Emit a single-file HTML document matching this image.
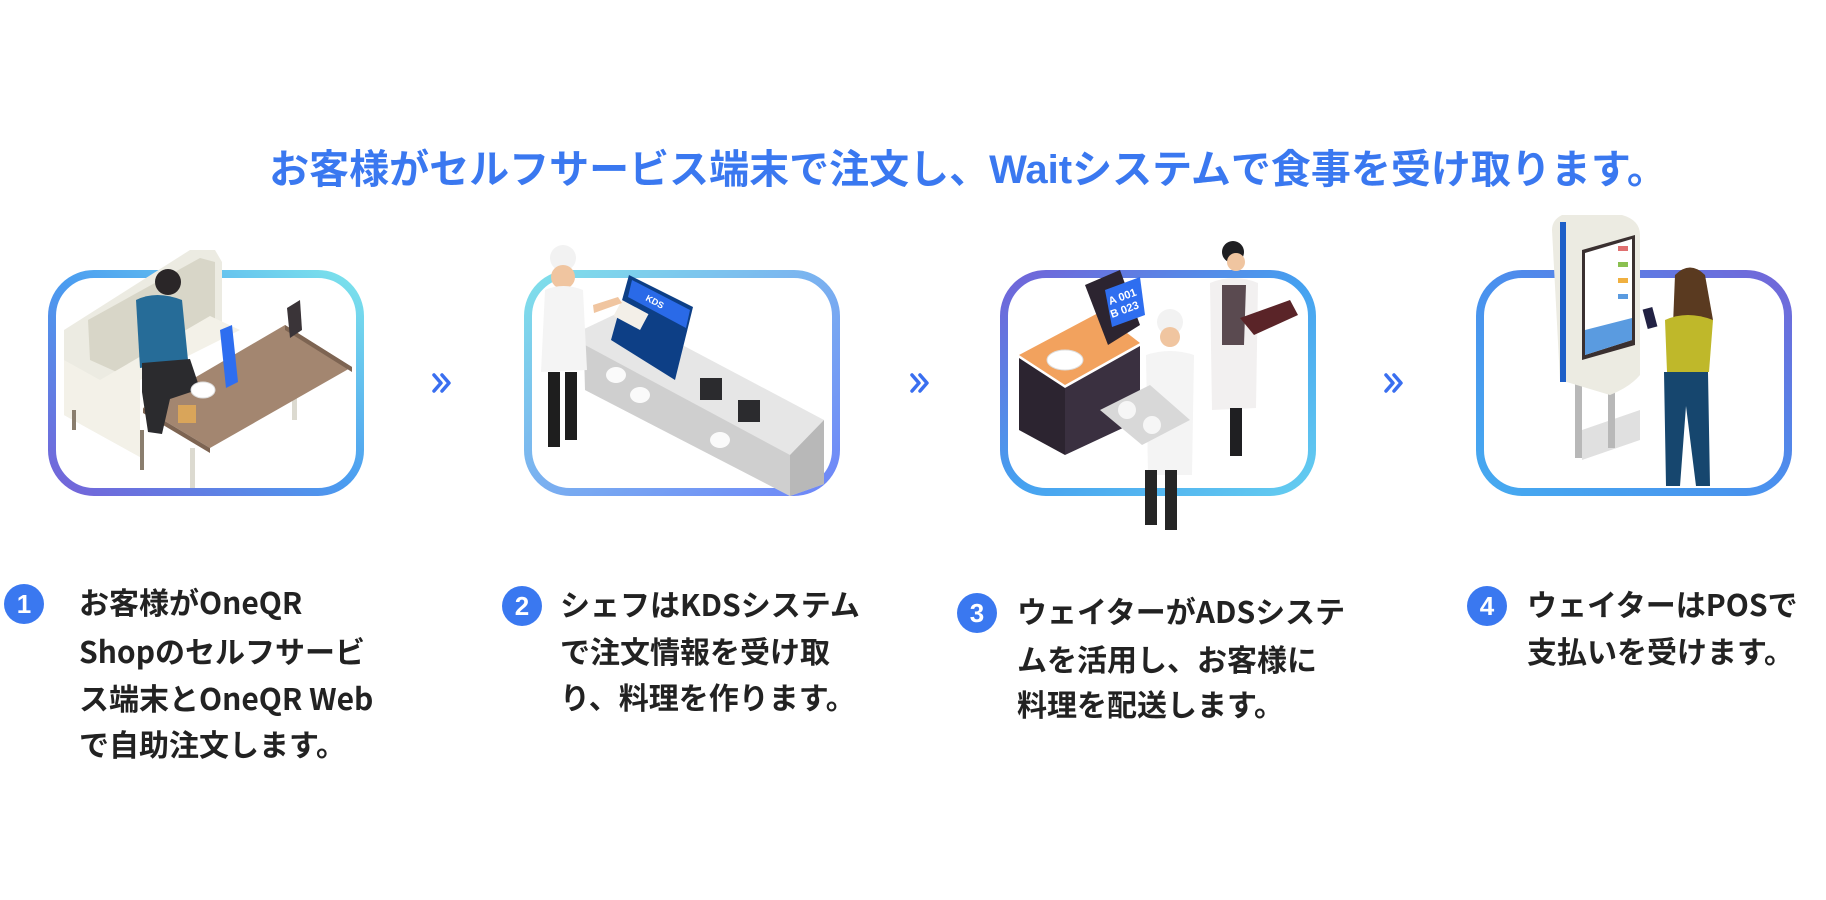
<!DOCTYPE html>
<html><head><meta charset="utf-8"><style>
html,body{margin:0;padding:0;background:#fff;width:1826px;height:900px;overflow:hidden}
svg{display:block}
text{font-family:"Liberation Sans","Noto Sans CJK JP",sans-serif;font-weight:bold}
.st text{font-family:"Noto Sans CJK JP",sans-serif}
</style></head><body>
<svg width="1826" height="900" viewBox="0 0 1826 900">
<defs>
<linearGradient id="g1" x1="0" y1="1" x2="1" y2="0"><stop offset="0" stop-color="#7563d8"/><stop offset=".5" stop-color="#4a9cf0"/><stop offset="1" stop-color="#7de4ec"/></linearGradient>
<linearGradient id="g2" x1="0" y1="0" x2="1" y2="1"><stop offset="0" stop-color="#7fe0ea"/><stop offset=".5" stop-color="#7ab0f0"/><stop offset="1" stop-color="#6e86f8"/></linearGradient>
<linearGradient id="g3" x1="0" y1="0" x2="1" y2="1"><stop offset="0" stop-color="#7263d8"/><stop offset=".5" stop-color="#45a0f0"/><stop offset="1" stop-color="#64cdf0"/></linearGradient>
<linearGradient id="g4" x1="0" y1="1" x2="1" y2="0"><stop offset="0" stop-color="#45aaf0"/><stop offset=".5" stop-color="#4a90ee"/><stop offset="1" stop-color="#7366d8"/></linearGradient>
</defs>

<text x="968" y="183" font-size="40" fill="#3a78f0" text-anchor="middle">お客様がセルフサービス端末で注文し、Waitシステムで食事を受け取ります。</text>

<rect x="52" y="274" width="308" height="218" rx="42" fill="#fff" stroke="url(#g1)" stroke-width="8"/>
<rect x="528" y="274" width="308" height="218" rx="42" fill="#fff" stroke="url(#g2)" stroke-width="8"/>
<rect x="1004" y="274" width="308" height="218" rx="42" fill="#fff" stroke="url(#g3)" stroke-width="8"/>
<rect x="1480" y="274" width="308" height="218" rx="42" fill="#fff" stroke="url(#g4)" stroke-width="8"/>

<g fill="none" stroke="#3a6ff0" stroke-width="3.5" stroke-linecap="round" stroke-linejoin="round">
<path d="M434 375 l7 8 l-7 8 M442 375 l7 8 l-7 8"/>
<path d="M912 375 l7 8 l-7 8 M920 375 l7 8 l-7 8"/>
<path d="M1386 375 l7 8 l-7 8 M1394 375 l7 8 l-7 8"/>
</g>

<g>
<polygon points="64,330 190,250 215,250 222,262 222,330 140,380 140,457 64,415" fill="#ecebe2"/>
<polygon points="88,320 200,258 215,262 215,330 130,378 90,360" fill="#d8d6c8"/>
<polygon points="64,415 140,457 140,380 240,330 210,316 100,380 64,360" fill="#f3f1e8"/>
<rect x="140" y="430" width="4" height="40" fill="#8a7e6e"/>
<rect x="72" y="410" width="4" height="20" fill="#8a7e6e"/>
<rect x="190" y="448" width="5" height="40" fill="#dcdad0"/>
<rect x="292" y="360" width="5" height="60" fill="#dcdad0"/>
<polygon points="285,325 352,367 210,448 143,408" fill="#a38670"/>
<polygon points="143,408 210,448 210,453 143,413" fill="#7d6452"/>
<polygon points="285,325 352,367 352,372 285,330" fill="#7d6452"/>
<circle cx="168" cy="282" r="13" fill="#2a2628"/>
<path d="M136 300 q20 -10 46 0 l6 60 l-48 8 z" fill="#266c98"/>
<path d="M142 363 l48 -4 l10 30 l-30 10 l-8 35 l-14 -2 l-6 -40 z" fill="#2b2b2e"/>
<polygon points="220,330 232,325 238,382 226,388" fill="#2e6ef0"/>
<polygon points="287,308 300,300 302,330 290,338" fill="#3a3438"/>
<ellipse cx="203" cy="390" rx="12" ry="8" fill="#fff" stroke="#ddd"/>
<rect x="178" y="405" width="18" height="18" fill="#d9a55a"/>
</g>

<g>
<polygon points="582,330 620,312 824,420 824,484 790,496 585,390" fill="#e6e6e6"/>
<polygon points="585,345 790,455 790,496 585,390" fill="#cfcfcf"/>
<polygon points="790,455 824,420 824,484 790,496" fill="#b8b8b8"/>
<ellipse cx="616" cy="375" rx="10" ry="8" fill="#fafafa"/>
<ellipse cx="640" cy="395" rx="10" ry="8" fill="#fafafa"/>
<ellipse cx="720" cy="440" rx="10" ry="8" fill="#fafafa"/>
<polygon points="629,275 693,307 675,380 611,340" fill="#0d3f86"/>
<polygon points="632,280 690,310 686,328 628,297" fill="#2a6ae8"/>
<text x="645" y="300" font-size="9" fill="#fff" transform="rotate(28 645 300)">KDS</text>
<rect x="622" y="300" width="30" height="18" fill="#f3efe8" transform="rotate(28 622 300)"/>
<rect x="700" y="378" width="22" height="22" fill="#2b2b2e"/>
<rect x="738" y="400" width="22" height="22" fill="#2b2b2e"/>
<circle cx="563" cy="258" r="13" fill="#f2f2f2"/>
<circle cx="563" cy="277" r="12" fill="#f0c5a0"/>
<path d="M545 290 q18 -8 38 0 l4 80 l-46 2 z" fill="#f4f4f4"/>
<path d="M593 305 l25 -8 l4 6 l-28 10 z" fill="#f0c5a0"/>
<rect x="548" y="372" width="12" height="75" fill="#1e1e1e"/>
<rect x="565" y="372" width="12" height="68" fill="#1e1e1e"/>
</g>

<g>
<polygon points="1019,355 1100,312 1140,343 1065,385" fill="#f2a25e"/>
<polygon points="1019,358 1065,388 1065,455 1019,430" fill="#2c2430"/>
<polygon points="1065,388 1140,346 1140,420 1065,455" fill="#3a3040"/>
<polygon points="1085,285 1120,270 1140,325 1108,345" fill="#2c2430"/>
<polygon points="1105,290 1140,277 1145,315 1112,327" fill="#2e6ef0"/>
<text x="1110" y="305" font-size="11" fill="#fff" transform="rotate(-20 1110 305)">A 001</text>
<text x="1112" y="318" font-size="11" fill="#fff" transform="rotate(-20 1112 318)">B 023</text>
<ellipse cx="1065" cy="360" rx="18" ry="10" fill="#fff" stroke="#ddd"/>
<circle cx="1233" cy="252" r="11" fill="#1f1f22"/>
<circle cx="1236" cy="262" r="9" fill="#f0c5a0"/>
<path d="M1210 283 q24 -10 48 0 l-2 125 l-44 2 z" fill="#f2f0f0"/>
<path d="M1222 285 l24 0 l-2 60 l-22 0 z" fill="#5a4a50"/>
<rect x="1230" y="408" width="12" height="48" fill="#1f1f22"/>
<polygon points="1240,318 1290,300 1298,315 1254,335" fill="#5a2428"/>
<circle cx="1170" cy="322" r="13" fill="#f2f2f2"/>
<circle cx="1170" cy="337" r="10" fill="#f0c5a0"/>
<path d="M1146 355 q24 -8 48 0 l-2 120 l-44 0 z" fill="#f4f4f4"/>
<polygon points="1100,410 1150,385 1190,420 1142,445" fill="#d8d8d8"/>
<circle cx="1127" cy="410" r="9" fill="#f6f6f6"/>
<circle cx="1152" cy="425" r="9" fill="#f6f6f6"/>
<rect x="1145" y="470" width="12" height="55" fill="#252525"/>
<rect x="1165" y="470" width="12" height="60" fill="#252525"/>
</g>

<g>
<polygon points="1582,430 1640,410 1640,440 1582,460" fill="#e0e0e0"/>
<rect x="1575" y="380" width="7" height="78" fill="#b8b8b8"/>
<rect x="1608" y="370" width="7" height="78" fill="#b8b8b8"/>
<path d="M1552 230 q0 -10 10 -15 l60 0 q18 5 18 20 l0 140 q-10 12 -30 20 l-50 -15 z" fill="#ecebe2"/>
<rect x="1560" y="222" width="6" height="160" fill="#1e5fc8"/>
<polygon points="1582,250 1635,235 1635,345 1582,360" fill="#3a3030"/>
<polygon points="1585,253 1632,239 1632,340 1585,355" fill="#fff"/>
<polygon points="1585,330 1632,318 1632,340 1585,355" fill="#5a9be0"/>
<rect x="1618" y="246" width="10" height="5" fill="#e07070"/>
<rect x="1618" y="262" width="10" height="5" fill="#8ac050"/>
<rect x="1618" y="278" width="10" height="5" fill="#f0b040"/>
<rect x="1618" y="294" width="10" height="5" fill="#5a9be0"/>
<path d="M1675 275 q15 -15 30 0 l8 45 l-40 5 z" fill="#5a3a20"/>
<path d="M1665 320 q22 -10 48 0 l-4 52 l-42 0 z" fill="#bfb82a"/>
<path d="M1664 372 l44 0 l2 114 l-14 0 l-10 -80 l-6 80 l-14 0 z" fill="#16466e"/>
<rect x="1645" y="308" width="10" height="20" fill="#224" transform="rotate(-15 1650 318)"/>
</g>

<g fill="#3a78f0">
<circle cx="24" cy="604" r="20"/><circle cx="522" cy="606" r="20"/><circle cx="977" cy="613" r="20"/><circle cx="1487" cy="606" r="20"/>
</g>
<g fill="#fff" font-size="26" text-anchor="middle">
<text x="24" y="613">1</text><text x="522" y="615">2</text><text x="977" y="622">3</text><text x="1487" y="615">4</text>
</g>
<g class="st" fill="#222" font-size="30">
<text x="79" y="614">お客様がOneQR</text>
<text x="79" y="663">Shopのセルフサービ</text>
<text x="79" y="710">ス端末とOneQR Web</text>
<text x="79" y="756">で自助注文します。</text>
<text x="560" y="616">シェフはKDSシステム</text>
<text x="560" y="663">で注文情報を受け取</text>
<text x="560" y="709">り、料理を作ります。</text>
<text x="1017" y="623">ウェイターがADSシステ</text>
<text x="1017" y="671">ムを活用し、お客様に</text>
<text x="1017" y="716">料理を配送します。</text>
<text x="1527" y="616">ウェイターはPOSで</text>
<text x="1527" y="663">支払いを受けます。</text>
</g>
</svg>
</body></html>
